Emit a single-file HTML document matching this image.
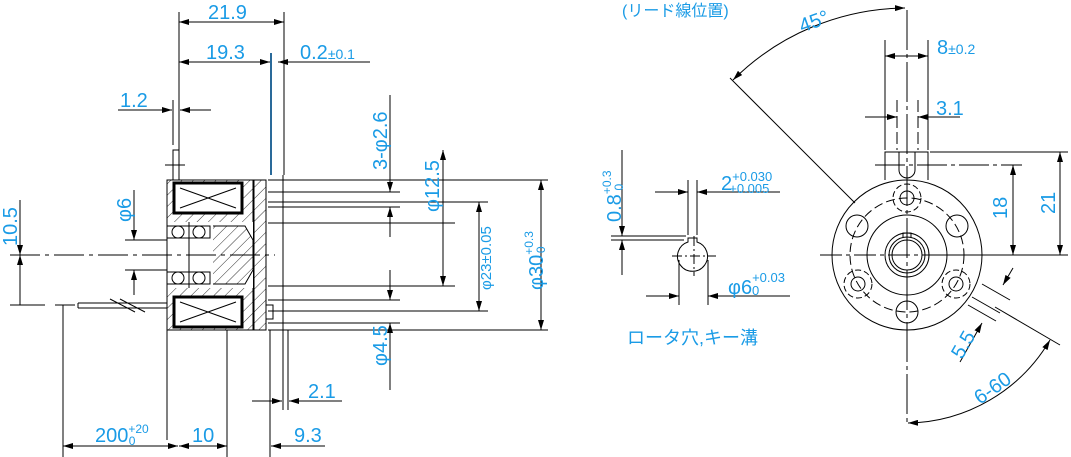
<!DOCTYPE html>
<html><head><meta charset="utf-8"><style>
html,body{margin:0;padding:0;background:#fff;width:1071px;height:457px;overflow:hidden}
svg{display:block}
text{font-family:"Liberation Sans","Noto Sans CJK JP",sans-serif;fill:#1a9be6}
</style></head><body>
<svg width="1071" height="457" viewBox="0 0 1071 457">
<defs>
<marker id="a" markerWidth="10" markerHeight="6" refX="10" refY="3" orient="auto-start-reverse" markerUnits="userSpaceOnUse"><path d="M0,0 L10,3 L0,6 z" fill="#000"/></marker>
<pattern id="h" width="8" height="8" patternUnits="userSpaceOnUse" patternTransform="rotate(45)"><line x1="0" y1="0" x2="0" y2="8" stroke="#000" stroke-width="0.8"/></pattern>
</defs>
<g stroke="#000" stroke-width="1" fill="none">
<line x1="179" y1="12" x2="179" y2="180"/>
<line x1="284" y1="12" x2="284" y2="175"/>
<line x1="179" y1="22" x2="284" y2="22" marker-start="url(#a)" marker-end="url(#a)"/>
<line x1="179" y1="62" x2="270" y2="62" marker-start="url(#a)" marker-end="url(#a)"/>
<line x1="370" y1="62" x2="278" y2="62" marker-end="url(#a)"/>
<line x1="271" y1="53" x2="271" y2="175" stroke="#2a6a9a" stroke-width="2"/>
<line x1="173" y1="100" x2="173" y2="145"/>
<line x1="118" y1="110" x2="172" y2="110" marker-end="url(#a)"/>
<line x1="211" y1="110" x2="180" y2="110" marker-end="url(#a)"/>
<rect x="173" y="150" width="6" height="30"/>
<line x1="165" y1="165" x2="185" y2="165"/>
<rect x="167" y="180" width="86" height="150" fill="url(#h)"/>
<rect x="167" y="222" width="86" height="66" fill="#fff" stroke="none"/>
<rect x="174" y="183" width="68" height="30" fill="#fff" stroke="#000" stroke-width="3"/>
<path d="M180,188 L236,208 M180,208 L236,188"/>
<rect x="174" y="297" width="68" height="30" fill="#fff" stroke="#000" stroke-width="3"/>
<path d="M180,302 L236,322 M180,322 L236,302"/>
<rect x="167" y="226" width="43" height="12"/>
<rect x="167" y="272" width="43" height="12"/>
<circle cx="178" cy="232" r="6"/><circle cx="199" cy="232" r="6"/>
<circle cx="178" cy="278" r="6"/><circle cx="199" cy="278" r="6"/>
<line x1="189" y1="222" x2="189" y2="288"/>
<path d="M213,226 L245,226 L253,240 L253,270 L245,284 L213,284" fill="url(#h)"/>
<rect x="254" y="180" width="12" height="150" fill="url(#h)"/>
<rect x="266" y="305" width="7" height="14" fill="#fff"/>
<line x1="167" y1="180" x2="167" y2="440"/>
<line x1="227" y1="330" x2="227" y2="457"/>
<line x1="270" y1="330" x2="270" y2="457"/>
<line x1="283" y1="175" x2="283" y2="410"/>
<line x1="288" y1="330" x2="288" y2="410"/>
<line x1="10" y1="255" x2="275" y2="255" stroke-dasharray="30 5 4 5"/>
<line x1="10" y1="305" x2="45" y2="305"/>
<path d="M55,305 L75,305 M78,303 L167,303 M78,308 L167,308 M78,303 L78,308"/>
<line x1="110" y1="299" x2="135" y2="312"/>
<line x1="120" y1="299" x2="145" y2="312"/>
<line x1="20" y1="200" x2="20" y2="255" marker-end="url(#a)"/>
<line x1="20" y1="305" x2="20" y2="255" marker-end="url(#a)"/>
<line x1="125" y1="240" x2="167" y2="240"/>
<line x1="125" y1="270" x2="167" y2="270"/>
<line x1="134" y1="190" x2="134" y2="240" marker-end="url(#a)"/>
<line x1="134" y1="295" x2="134" y2="270" marker-end="url(#a)"/>
<line x1="63" y1="305" x2="63" y2="457"/>
<line x1="63" y1="446" x2="178" y2="446" marker-start="url(#a)" marker-end="url(#a)"/>
<line x1="179" y1="446" x2="227" y2="446" marker-start="url(#a)" marker-end="url(#a)"/>
<line x1="325" y1="446" x2="271" y2="446" marker-end="url(#a)"/>
<line x1="252" y1="401" x2="282" y2="401" marker-end="url(#a)"/>
<line x1="342" y1="401" x2="289" y2="401" marker-end="url(#a)"/>
<line x1="268" y1="180" x2="548" y2="180"/>
<line x1="268" y1="330" x2="548" y2="330"/>
<line x1="268" y1="192" x2="400" y2="192"/>
<line x1="268" y1="202" x2="488" y2="202"/>
<line x1="268" y1="207" x2="400" y2="207"/>
<line x1="268" y1="223" x2="455" y2="223"/>
<line x1="268" y1="286" x2="455" y2="286"/>
<line x1="268" y1="300" x2="400" y2="300"/>
<line x1="268" y1="311" x2="488" y2="311"/>
<line x1="268" y1="323" x2="400" y2="323"/>
<line x1="390" y1="95" x2="390" y2="192" marker-end="url(#a)"/>
<line x1="390" y1="237" x2="390" y2="207" marker-end="url(#a)"/>
<line x1="390" y1="270" x2="390" y2="300" marker-end="url(#a)"/>
<line x1="390" y1="390" x2="390" y2="323" marker-end="url(#a)"/>
<line x1="443" y1="150" x2="443" y2="286" marker-start="url(#a)" marker-end="url(#a)"/>
<line x1="479" y1="202" x2="479" y2="311" marker-start="url(#a)" marker-end="url(#a)"/>
<line x1="541" y1="180" x2="541" y2="330" marker-start="url(#a)" marker-end="url(#a)"/>
<line x1="688" y1="180" x2="688" y2="235"/>
<line x1="697" y1="180" x2="697" y2="235"/>
<line x1="655" y1="192" x2="688" y2="192" marker-end="url(#a)"/>
<line x1="780" y1="192" x2="697" y2="192" marker-end="url(#a)"/>
<line x1="611" y1="236" x2="686" y2="236"/>
<line x1="611" y1="240" x2="684" y2="240"/>
<line x1="622" y1="150" x2="622" y2="236" marker-end="url(#a)"/>
<line x1="622" y1="275" x2="622" y2="240" marker-end="url(#a)"/>
<path d="M688,242 A15,15 0 1 0 697,242 L697,238 L688,238 Z"/>
<line x1="672" y1="256" x2="716" y2="256" stroke-dasharray="10 3 2 3"/>
<line x1="694" y1="236" x2="694" y2="276" stroke-dasharray="10 3 2 3"/>
<line x1="679" y1="260" x2="679" y2="305"/>
<line x1="708" y1="260" x2="708" y2="305"/>
<line x1="646" y1="296" x2="679" y2="296" marker-end="url(#a)"/>
<line x1="790" y1="296" x2="708" y2="296" marker-end="url(#a)"/>
<circle cx="907" cy="255" r="75"/>
<circle cx="907" cy="255" r="57" stroke-dasharray="9 4"/>
<circle cx="907" cy="255" r="40"/>
<circle cx="907" cy="255" r="22"/>
<circle cx="907" cy="255" r="18"/>
<path d="M903,238 L903,233 L911,233 L911,238"/>
<circle cx="907" cy="255" r="15"/>
<line x1="820" y1="255" x2="1000" y2="255" stroke-dasharray="22 4 4 4"/>
<line x1="907" y1="10" x2="907" y2="425" stroke-dasharray="40 4 4 4"/>
<path d="M885,180 L885,152 L928,152 L928,180"/>
<path d="M899,152 L899,170 A8,8 0 0 0 915,170 L915,152"/>
<line x1="875" y1="165" x2="1022" y2="165" stroke-dasharray="30 4 4 4"/>
<line x1="930" y1="152" x2="1068" y2="152"/>
<line x1="930" y1="255" x2="1068" y2="255"/>
<line x1="885" y1="40" x2="885" y2="150"/>
<line x1="928" y1="40" x2="928" y2="150"/>
<line x1="897" y1="100" x2="897" y2="150" stroke-dasharray="12 4"/>
<line x1="918" y1="100" x2="918" y2="150" stroke-dasharray="12 4"/>
<line x1="885" y1="56" x2="928" y2="56" marker-start="url(#a)" marker-end="url(#a)"/>
<line x1="865" y1="117" x2="897" y2="117" marker-end="url(#a)"/>
<line x1="960" y1="117" x2="918" y2="117" marker-end="url(#a)"/>
<line x1="1013" y1="165" x2="1013" y2="255" marker-start="url(#a)" marker-end="url(#a)"/>
<line x1="1060" y1="152" x2="1060" y2="255" marker-start="url(#a)" marker-end="url(#a)"/>
<circle cx="907" cy="198" r="7"/>
<circle cx="907" cy="198" r="14" stroke-dasharray="6 3"/>
<circle cx="857" cy="226" r="11"/>
<circle cx="957" cy="226" r="11"/>
<circle cx="907" cy="312" r="11"/>
<circle cx="858" cy="284" r="7"/>
<circle cx="858" cy="284" r="14" stroke-dasharray="6 3"/>
<circle cx="956" cy="284" r="7"/>
<circle cx="956" cy="284" r="14" stroke-dasharray="6 3"/>
<line x1="730" y1="78" x2="855" y2="203"/>
<path d="M733,80 A247,247 0 0 1 905,8" marker-start="url(#a)" marker-end="url(#a)"/>
<path d="M908,423 A168,168 0 0 0 1050,340" marker-start="url(#a)" marker-end="url(#a)"/>
<line x1="995" y1="307" x2="1060" y2="345"/>
<line x1="982" y1="284" x2="1010" y2="300"/>
<line x1="972" y1="297" x2="1000" y2="313"/>
<line x1="968" y1="305" x2="996" y2="321"/>
<line x1="1013" y1="268" x2="1003" y2="285" marker-end="url(#a)"/>
<line x1="960" y1="362" x2="982" y2="323" marker-end="url(#a)"/>
</g>
<g font-size="20">
<text x="208" y="19">21.9</text>
<text x="206" y="59">19.3</text>
<text x="300" y="59">0.2<tspan font-size="14">±0.1</tspan></text>
<text x="120" y="107">1.2</text>
<text x="95" y="442">200<tspan font-size="12" dy="-9">+20</tspan><tspan font-size="12" dx="-20" dy="12">0</tspan></text>
<text x="192" y="442">10</text>
<text x="294" y="442">9.3</text>
<text x="308" y="398">2.1</text>
<text x="17" y="246" transform="rotate(-90 17 246)">10.5</text>
<text x="131" y="222" transform="rotate(-90 131 222)">φ6</text>
<text x="387" y="170" transform="rotate(-90 387 170)">3-φ2.6</text>
<text x="439" y="212" transform="rotate(-90 439 212)">φ12.5</text>
<text x="387" y="366" transform="rotate(-90 387 366)">φ4.5</text>
<text x="491" y="290" transform="rotate(-90 491 290)" font-size="15">φ23±0.05</text>
<text x="543" y="290" transform="rotate(-90 543 290)">φ30<tspan font-size="12" dy="-10">+0.3</tspan><tspan font-size="12" dx="-22" dy="12">0</tspan></text>
<text x="621" y="222" transform="rotate(-90 621 222)">0.8<tspan font-size="12" dy="-10">+0.3</tspan><tspan font-size="12" dx="-20" dy="12">0</tspan></text>
<text x="721" y="190">2<tspan font-size="13" dy="-9">+0.030</tspan><tspan font-size="13" dx="-43" dy="12">+0.005</tspan></text>
<text x="728" y="294">φ6<tspan font-size="13" dy="-12">+0.03</tspan><tspan font-size="13" dx="-33" dy="13">0</tspan></text>
<text x="627" y="344" font-size="18">ロータ穴,キー溝</text>
<text x="622" y="16" font-size="16">(リード線位置)</text>
<text x="798" y="30" transform="rotate(-20 808 20)">45°</text>
<text x="937" y="54">8<tspan font-size="14">±0.2</tspan></text>
<text x="936" y="115">3.1</text>
<text x="1007" y="219" transform="rotate(-90 1007 219)">18</text>
<text x="1055" y="214" transform="rotate(-90 1055 214)">21</text>
<text x="962" y="360" transform="rotate(-60 962 360)">5.5</text>
<text x="980" y="405" transform="rotate(-35 980 405)">6-60</text>
</g>
</svg>
</body></html>
